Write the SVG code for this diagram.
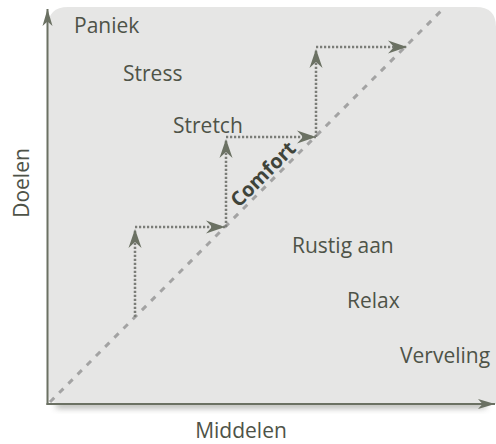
<svg xmlns="http://www.w3.org/2000/svg" width="496" height="444" viewBox="0 0 496 444">
  <defs>
    <style>
      .lbl { font-family: "Open Sans", "Liberation Sans", sans-serif; font-size: 21px; fill: #4e5348; }
      .axis { stroke: #6b7163; stroke-width: 2; fill: none; }
      .step { stroke: #7b7d78; stroke-width: 2.5; stroke-dasharray: 2.2 1.8; fill: none; }
      .comfort-line { stroke: #a3a3a3; stroke-width: 3; stroke-dasharray: 6 7; fill: none; }
    </style>
    <marker id="dart" markerUnits="userSpaceOnUse" markerWidth="22" markerHeight="16" viewBox="-21 -8 22 16" refX="0" refY="0" orient="auto">
      <path d="M0,0 L-19,-6.5 L-13,0 L-19,6.5 Z" fill="#6b7163"/>
    </marker>
    <marker id="axisHead" markerUnits="userSpaceOnUse" markerWidth="20" markerHeight="14" viewBox="-19 -7 20 14" refX="0" refY="0" orient="auto">
      <path d="M0,0 L-17,-5 L-12.5,0 L-17,5 Z" fill="#6b7163"/>
    </marker>
    <filter id="soft" x="-5%" y="-100%" width="110%" height="300%">
      <feGaussianBlur stdDeviation="3"/>
    </filter>
    <linearGradient id="curl" x1="0" y1="1" x2="1" y2="0">
      <stop offset="0" stop-color="#ffffff"/>
      <stop offset="1" stop-color="#c9c9c6"/>
    </linearGradient>
  </defs>

  <!-- drop shadow under the bottom edge of the panel -->
  <rect x="56" y="402" width="430" height="6" fill="#8a8d86" opacity="0.7" filter="url(#soft)"/>

  <!-- panel -->
  <path d="M48,404 V27 Q48,7 68,7 H476 Q496,7 496,27 V404 Z" fill="#e6e6e5"/>
  <!-- curled bottom-left corner -->
  <path d="M49,395 Q51,402 59,403 L49,403 Z" fill="url(#curl)"/>

  <!-- comfort diagonal -->
  <line class="comfort-line" x1="50" y1="402" x2="442" y2="10"/>

  <g id="connectors">
    <line class="step" x1="135" y1="317" x2="135" y2="229" marker-end="url(#dart)"/>
    <line class="step" x1="135" y1="227" x2="225" y2="227" marker-end="url(#dart)"/>
    <line class="step" x1="226" y1="227" x2="226" y2="139" marker-end="url(#dart)"/>
    <line class="step" x1="226" y1="137" x2="316" y2="137" marker-end="url(#dart)"/>
    <line class="step" x1="316" y1="137" x2="316" y2="49" marker-end="url(#dart)"/>
    <line class="step" x1="316" y1="47" x2="407" y2="47" marker-end="url(#dart)"/>
  </g>

  <!-- axes -->
  <g id="axes">
    <line class="axis" x1="47.5" y1="405" x2="47.5" y2="9" marker-end="url(#axisHead)"/>
    <line class="axis" x1="46.5" y1="404" x2="495" y2="404" marker-end="url(#axisHead)"/>
  </g>

  <g id="paniek"><text class="lbl" x="74" y="33">Paniek</text></g>
  <g id="stress"><text class="lbl" x="123" y="81">Stress</text></g>
  <g id="stretch"><text class="lbl" x="173" y="133">Stretch</text></g>
  <g id="rustig-aan"><text class="lbl" x="292" y="253">Rustig aan</text></g>
  <g id="relax"><text class="lbl" x="347" y="308">Relax</text></g>
  <g id="verveling"><text class="lbl" x="400" y="363">Verveling</text></g>

  <g id="comfort">
    <text transform="translate(268,179) rotate(-45)" text-anchor="middle" font-family="'Open Sans', 'Liberation Sans', sans-serif" font-weight="bold" font-size="20" fill="#3f443a">Comfort</text>
  </g>

  <g id="doelen">
    <text class="lbl" transform="translate(29,183) rotate(-90)" text-anchor="middle">Doelen</text>
  </g>
  <g id="middelen">
    <text class="lbl" x="241" y="438" text-anchor="middle">Middelen</text>
  </g>
</svg>
